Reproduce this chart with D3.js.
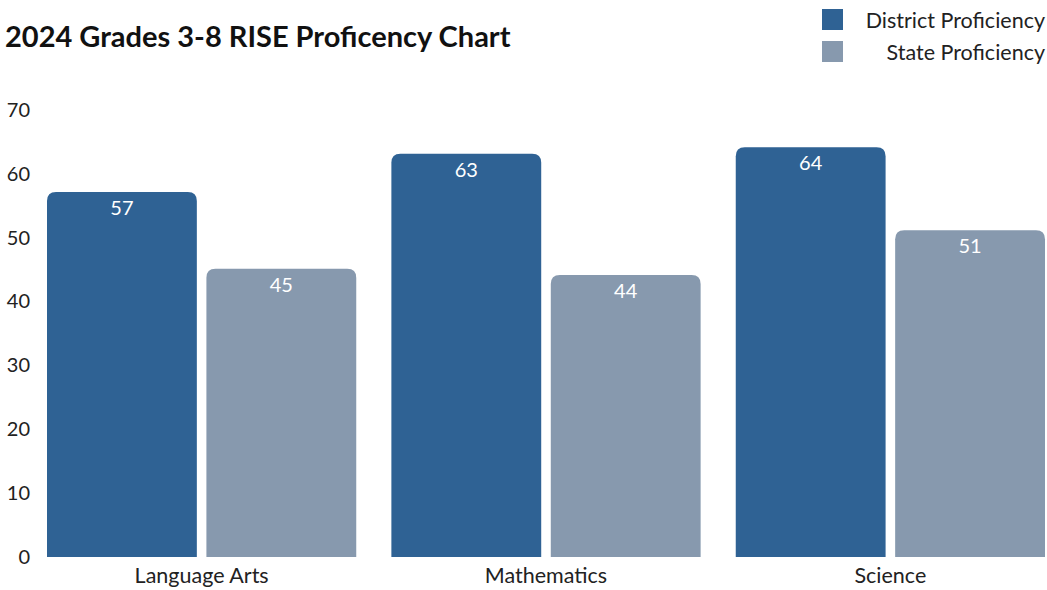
<!DOCTYPE html>
<html>
<head>
<meta charset="utf-8">
<script src="https://cdn.jsdelivr.net/npm/d3@7"></script>
<style>
  html, body { margin: 0; padding: 0; background: #fff; }
  svg { display: block; font-family: Lato, "Open Sans", sans-serif; }
</style>
</head>
<body>
<svg id="chart" width="1047" height="590"></svg>
<script>
const title = "2024 Grades 3-8 RISE Proficency Chart";
const categories = ["Language Arts", "Mathematics", "Science"];
const seriesNames = ["District Proficiency", "State Proficiency"];
const districtValues = [57, 63, 64];
const stateValues = [45, 44, 51];
const yTicks = [0, 10, 20, 30, 40, 50, 60, 70];
const colors = ["#2f6294", "#8799ae"];

const svg = d3.select("#chart");
const yBottom = 557, yTop = 110;

const y = d3.scaleLinear().domain([0, 70]).range([yBottom, yTop]);
const x0 = d3.scaleBand().domain(categories).range([47, 1045]).paddingInner(0.102).paddingOuter(0);
const x1 = d3.scaleBand().domain(seriesNames).range([0, x0.bandwidth()]).paddingInner(0.06).paddingOuter(0);
const color = d3.scaleOrdinal().domain(seriesNames).range(colors);

const data = categories.map((c, i) => ({
  cat: c,
  vals: [
    { name: seriesNames[0], value: districtValues[i] },
    { name: seriesNames[1], value: stateValues[i] }
  ]
}));

// title
svg.append("text")
  .attr("x", 5).attr("y", 47)
  .attr("font-size", 29).attr("font-weight", 700).attr("fill", "#111")
  .text(title);

// y axis labels
const yAxis = d3.axisLeft(y).tickValues(yTicks).tickSize(0).tickPadding(0);
const yg = svg.append("g").attr("transform", "translate(30,0)").call(yAxis);
yg.select(".domain").remove();
yg.selectAll("text").attr("font-size", 20).attr("fill", "#222").attr("font-family", "Lato, sans-serif");

// x axis labels
const xAxis = d3.axisBottom(x0).tickSize(0).tickPadding(0);
const xg = svg.append("g").attr("transform", `translate(0,${yBottom + 7})`).call(xAxis);
xg.select(".domain").remove();
xg.selectAll("text").attr("font-size", 21.5).attr("fill", "#222").attr("font-family", "Lato, sans-serif").attr("dy", "0.9em");

function topRounded(x, yt, w, h, r) {
  r = Math.min(r, w / 2, h);
  return `M${x},${yt + h}V${yt + r}Q${x},${yt} ${x + r},${yt}H${x + w - r}Q${x + w},${yt} ${x + w},${yt + r}V${yt + h}Z`;
}

const groups = svg.append("g").selectAll("g").data(data).join("g")
  .attr("transform", d => `translate(${x0(d.cat)},0)`);

groups.selectAll("path").data(d => d.vals).join("path")
  .attr("d", d => topRounded(x1(d.name), y(d.value) - 1, x1.bandwidth(), yBottom - y(d.value) + 1, 9))
  .attr("fill", d => color(d.name));

groups.selectAll("text.val").data(d => d.vals).join("text")
  .attr("class", "val")
  .attr("x", d => x1(d.name) + x1.bandwidth() / 2)
  .attr("y", d => y(d.value) + 22)
  .attr("text-anchor", "middle")
  .attr("font-size", 20).attr("fill", "#fff")
  .text(d => d.value);

// legend
const legend = svg.append("g").selectAll("g").data(seriesNames).join("g")
  .attr("transform", (d, i) => `translate(0,${i * 32})`);
legend.append("rect").attr("x", 822).attr("y", 9).attr("width", 21).attr("height", 21)
  .attr("fill", d => color(d));
legend.append("text").attr("x", 1045).attr("y", 28).attr("text-anchor", "end")
  .attr("font-size", 21.5).attr("fill", "#222").text(d => d);
</script>
</body>
</html>
